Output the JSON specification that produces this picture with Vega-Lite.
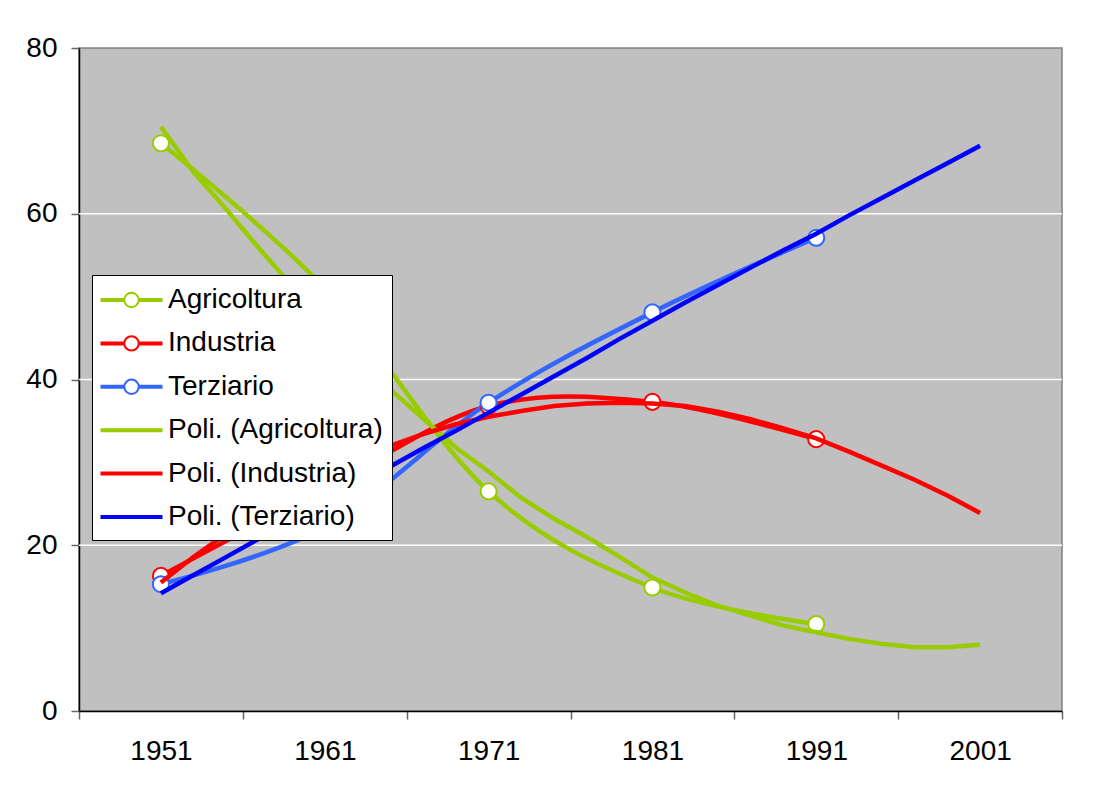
{
  "$schema": "https://vega.github.io/schema/vega-lite/v6.json",
  "width": 983,
  "height": 663,
  "autosize": {"type": "none"},
  "padding": {"left": 79, "top": 48, "right": 42, "bottom": 78},
  "background": "white",
  "config": {
    "font": "Liberation Sans",
    "view": {"fill": "#C0C0C0", "stroke": "#808080", "strokeWidth": 1.5},
    "axis": {"labelFont": "Liberation Sans", "labelFontSize": 28, "labelColor": "black"}
  },
  "datasets": {
    "grid": [{"g": 20}, {"g": 40}, {"g": 60}],
    "obs": [
      {"anno": 1951, "serie": "Agricoltura", "valore": 68.5},
      {"anno": 1961, "serie": "Agricoltura", "valore": 51.0},
      {"anno": 1971, "serie": "Agricoltura", "valore": 26.5},
      {"anno": 1981, "serie": "Agricoltura", "valore": 14.9},
      {"anno": 1991, "serie": "Agricoltura", "valore": 10.5},
      {"anno": 1951, "serie": "Industria", "valore": 16.3},
      {"anno": 1961, "serie": "Industria", "valore": 26.8},
      {"anno": 1971, "serie": "Industria", "valore": 36.8},
      {"anno": 1981, "serie": "Industria", "valore": 37.3},
      {"anno": 1991, "serie": "Industria", "valore": 32.8},
      {"anno": 1951, "serie": "Terziario", "valore": 15.3},
      {"anno": 1961, "serie": "Terziario", "valore": 22.2},
      {"anno": 1971, "serie": "Terziario", "valore": 37.2},
      {"anno": 1981, "serie": "Terziario", "valore": 48.1},
      {"anno": 1991, "serie": "Terziario", "valore": 57.1}
    ],
    "trend": [
      {"anno": 1951, "serie": "Poli. (Agricoltura)", "valore": 70.5},
      {"anno": 1953, "serie": "Poli. (Agricoltura)", "valore": 65.0},
      {"anno": 1955, "serie": "Poli. (Agricoltura)", "valore": 60.5},
      {"anno": 1957, "serie": "Poli. (Agricoltura)", "valore": 55.8},
      {"anno": 1959, "serie": "Poli. (Agricoltura)", "valore": 51.3},
      {"anno": 1961, "serie": "Poli. (Agricoltura)", "valore": 47.0},
      {"anno": 1963, "serie": "Poli. (Agricoltura)", "valore": 42.6},
      {"anno": 1965, "serie": "Poli. (Agricoltura)", "valore": 38.8},
      {"anno": 1967, "serie": "Poli. (Agricoltura)", "valore": 35.3},
      {"anno": 1969, "serie": "Poli. (Agricoltura)", "valore": 31.8},
      {"anno": 1971, "serie": "Poli. (Agricoltura)", "valore": 28.9},
      {"anno": 1973, "serie": "Poli. (Agricoltura)", "valore": 25.7},
      {"anno": 1975, "serie": "Poli. (Agricoltura)", "valore": 23.2},
      {"anno": 1977, "serie": "Poli. (Agricoltura)", "valore": 21.0},
      {"anno": 1979, "serie": "Poli. (Agricoltura)", "valore": 18.6},
      {"anno": 1981, "serie": "Poli. (Agricoltura)", "valore": 16.1},
      {"anno": 1983, "serie": "Poli. (Agricoltura)", "valore": 14.3},
      {"anno": 1985, "serie": "Poli. (Agricoltura)", "valore": 12.7},
      {"anno": 1987, "serie": "Poli. (Agricoltura)", "valore": 11.5},
      {"anno": 1989, "serie": "Poli. (Agricoltura)", "valore": 10.3},
      {"anno": 1991, "serie": "Poli. (Agricoltura)", "valore": 9.5},
      {"anno": 1993, "serie": "Poli. (Agricoltura)", "valore": 8.7},
      {"anno": 1995, "serie": "Poli. (Agricoltura)", "valore": 8.1},
      {"anno": 1997, "serie": "Poli. (Agricoltura)", "valore": 7.7},
      {"anno": 1999, "serie": "Poli. (Agricoltura)", "valore": 7.7},
      {"anno": 2001, "serie": "Poli. (Agricoltura)", "valore": 8.0},
      {"anno": 1951, "serie": "Poli. (Industria)", "valore": 15.5},
      {"anno": 1953, "serie": "Poli. (Industria)", "valore": 18.6},
      {"anno": 1955, "serie": "Poli. (Industria)", "valore": 21.4},
      {"anno": 1957, "serie": "Poli. (Industria)", "valore": 24.0},
      {"anno": 1959, "serie": "Poli. (Industria)", "valore": 26.4},
      {"anno": 1961, "serie": "Poli. (Industria)", "valore": 28.5},
      {"anno": 1963, "serie": "Poli. (Industria)", "valore": 30.4},
      {"anno": 1965, "serie": "Poli. (Industria)", "valore": 32.0},
      {"anno": 1967, "serie": "Poli. (Industria)", "valore": 33.4},
      {"anno": 1969, "serie": "Poli. (Industria)", "valore": 34.6},
      {"anno": 1971, "serie": "Poli. (Industria)", "valore": 35.5},
      {"anno": 1973, "serie": "Poli. (Industria)", "valore": 36.2},
      {"anno": 1975, "serie": "Poli. (Industria)", "valore": 36.8},
      {"anno": 1977, "serie": "Poli. (Industria)", "valore": 37.1},
      {"anno": 1979, "serie": "Poli. (Industria)", "valore": 37.2},
      {"anno": 1981, "serie": "Poli. (Industria)", "valore": 37.1},
      {"anno": 1983, "serie": "Poli. (Industria)", "valore": 36.8},
      {"anno": 1985, "serie": "Poli. (Industria)", "valore": 36.1},
      {"anno": 1987, "serie": "Poli. (Industria)", "valore": 35.2},
      {"anno": 1989, "serie": "Poli. (Industria)", "valore": 34.1},
      {"anno": 1991, "serie": "Poli. (Industria)", "valore": 32.9},
      {"anno": 1993, "serie": "Poli. (Industria)", "valore": 31.3},
      {"anno": 1995, "serie": "Poli. (Industria)", "valore": 29.6},
      {"anno": 1997, "serie": "Poli. (Industria)", "valore": 27.9},
      {"anno": 1999, "serie": "Poli. (Industria)", "valore": 26.0},
      {"anno": 2001, "serie": "Poli. (Industria)", "valore": 23.9},
      {"anno": 1951, "serie": "Poli. (Terziario)", "valore": 14.2},
      {"anno": 1953, "serie": "Poli. (Terziario)", "valore": 16.4},
      {"anno": 1955, "serie": "Poli. (Terziario)", "valore": 18.6},
      {"anno": 1957, "serie": "Poli. (Terziario)", "valore": 20.8},
      {"anno": 1959, "serie": "Poli. (Terziario)", "valore": 23.0},
      {"anno": 1961, "serie": "Poli. (Terziario)", "valore": 25.1},
      {"anno": 1963, "serie": "Poli. (Terziario)", "valore": 27.3},
      {"anno": 1965, "serie": "Poli. (Terziario)", "valore": 29.5},
      {"anno": 1967, "serie": "Poli. (Terziario)", "valore": 31.7},
      {"anno": 1969, "serie": "Poli. (Terziario)", "valore": 33.8},
      {"anno": 1971, "serie": "Poli. (Terziario)", "valore": 36.0},
      {"anno": 1973, "serie": "Poli. (Terziario)", "valore": 38.2},
      {"anno": 1975, "serie": "Poli. (Terziario)", "valore": 40.4},
      {"anno": 1977, "serie": "Poli. (Terziario)", "valore": 42.6},
      {"anno": 1979, "serie": "Poli. (Terziario)", "valore": 44.9},
      {"anno": 1981, "serie": "Poli. (Terziario)", "valore": 47.1},
      {"anno": 1983, "serie": "Poli. (Terziario)", "valore": 49.3},
      {"anno": 1985, "serie": "Poli. (Terziario)", "valore": 51.4},
      {"anno": 1987, "serie": "Poli. (Terziario)", "valore": 53.5},
      {"anno": 1989, "serie": "Poli. (Terziario)", "valore": 55.6},
      {"anno": 1991, "serie": "Poli. (Terziario)", "valore": 57.6},
      {"anno": 1993, "serie": "Poli. (Terziario)", "valore": 59.8},
      {"anno": 1995, "serie": "Poli. (Terziario)", "valore": 61.9},
      {"anno": 1997, "serie": "Poli. (Terziario)", "valore": 64.0},
      {"anno": 1999, "serie": "Poli. (Terziario)", "valore": 66.1},
      {"anno": 2001, "serie": "Poli. (Terziario)", "valore": 68.2}
    ]
  },
  "layer": [
    {
      "data": {"name": "grid"},
      "mark": {"type": "rule", "color": "white", "strokeWidth": 1.5},
      "encoding": {
        "y": {"field": "g", "type": "quantitative", "scale": {"domain": [0, 80], "nice": false}}
      }
    },
    {
      "data": {"name": "obs"},
      "mark": {"type": "line", "interpolate": "cardinal", "strokeWidth": 4.5},
      "encoding": {
        "x": {
          "field": "anno", "type": "quantitative",
          "scale": {"domain": [1946, 2006], "nice": false, "zero": false},
          "axis": {
            "title": null,
            "values": [1946, 1956, 1966, 1976, 1986, 1996, 2006],
            "labelExpr": "datum.value > 2000 ? '' : '' + (datum.value + 5)",
            "labelOffset": 82,
            "tickSize": 8, "tickColor": "#666666", "tickWidth": 1.5,
            "domainColor": "black", "domainWidth": 1.5,
            "grid": false, "labelPadding": 18, "labelOverlap": false, "labelFlush": false, "labelBound": false
          }
        },
        "y": {
          "field": "valore", "type": "quantitative",
          "scale": {"domain": [0, 80], "nice": false},
          "axis": {
            "title": null,
            "values": [0, 20, 40, 60, 80],
            "tickSize": 8, "tickColor": "#666666", "tickWidth": 1.5,
            "domainColor": "black", "domainWidth": 1.5,
            "grid": false,
            "labelPadding": 14
          }
        },
        "color": {
          "field": "serie", "type": "nominal",
          "scale": {
            "domain": ["Agricoltura", "Industria", "Terziario", "Poli. (Agricoltura)", "Poli. (Industria)", "Poli. (Terziario)"],
            "range": ["#99CC00", "#FF0000", "#3366FF", "#99CC00", "#FF0000", "#0000FF"]
          },
          "legend": {
            "title": null,
            "orient": "none", "legendX": 13, "legendY": 227,
            "padding": 9, "fillColor": "white", "strokeColor": "black", "cornerRadius": 0,
            "labelFont": "Liberation Sans", "labelFontSize": 28, "labelColor": "black", "labelLimit": 0,
            "symbolSize": 900, "symbolStrokeWidth": 2, "symbolFillColor": "white",
            "rowPadding": 13.4, "labelOffset": 20.5, "symbolOffset": 14.5,
            "encode": {
              "symbols": {
                "update": {
                  "shape": {"signal": "indexof(['Agricoltura','Industria','Terziario'], datum.value) >= 0 ? 'M -2 -0.067 L -0.48 -0.067 L -0.48 0.067 L -2 0.067 Z M 0.48 -0.067 L 2 -0.067 L 2 0.067 L 0.48 0.067 Z M 0.48 0 A 0.48 0.48 0 1 1 -0.48 0 A 0.48 0.48 0 1 1 0.48 0 Z' : 'M -2 -0.067 L 2 -0.067 L 2 0.067 L -2 0.067 Z'"},
                  "fill": {"value": "white"}
                }
              }
            }
          }
        }
      }
    },
    {
      "data": {"name": "obs"},
      "mark": {"type": "point", "shape": "circle", "filled": false, "fill": "white", "fillOpacity": 1, "size": 260, "strokeWidth": 2},
      "encoding": {
        "x": {"field": "anno", "type": "quantitative"},
        "y": {"field": "valore", "type": "quantitative"},
        "color": {"field": "serie", "type": "nominal"}
      }
    },
    {
      "data": {"name": "trend"},
      "mark": {"type": "line", "strokeWidth": 4.5},
      "encoding": {
        "x": {"field": "anno", "type": "quantitative"},
        "y": {"field": "valore", "type": "quantitative"},
        "color": {"field": "serie", "type": "nominal"}
      }
    }
  ]
}
